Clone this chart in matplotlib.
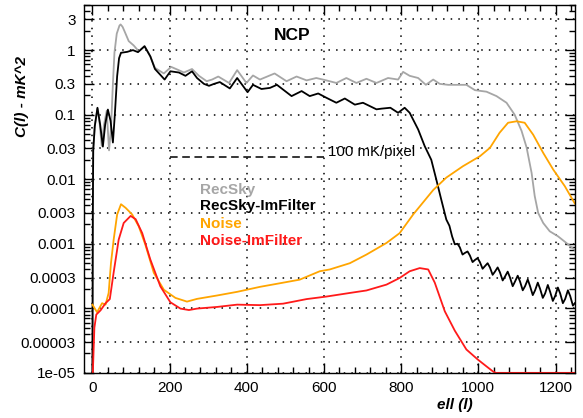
import numpy as np
import matplotlib
matplotlib.use("Agg")
import matplotlib.pyplot as plt
from matplotlib.ticker import FixedLocator, MultipleLocator, LogLocator, NullFormatter

plt.rcParams['font.family'] = ['Liberation Sans', 'DejaVu Sans']

# RecSky (gray)
ell_sky = [0, 1, 2, 6, 13, 19, 24, 30, 37, 43, 48, 53, 57, 63, 70, 73, 78, 83, 94, 107,
           120, 135, 150, 162, 185, 204, 220, 237, 258, 276, 296, 310, 326, 354, 375, 399,
           416, 434, 472, 503, 529, 555, 580, 606, 632, 658, 684, 710, 736, 766, 792, 805,
           822, 844, 864, 883, 900, 922, 952, 969, 991, 1021, 1047, 1073, 1094, 1112, 1125,
           1138, 1146, 1155, 1168, 1185, 1206, 1228, 1250]
c_sky = [1e-5, 0.003, 0.028, 0.066, 0.125, 0.07, 0.033, 0.07, 0.115, 0.028, 0.06, 0.3,
         0.91, 1.8, 2.4, 2.5, 2.3, 1.97, 1.38, 1.18, 0.96, 1.15, 0.8, 0.53, 0.435, 0.55,
         0.5, 0.45, 0.51, 0.40, 0.33, 0.35, 0.39, 0.31, 0.49, 0.31, 0.405, 0.35, 0.435,
         0.33, 0.39, 0.34, 0.37, 0.34, 0.31, 0.37, 0.31, 0.36, 0.31, 0.37, 0.35, 0.46,
         0.40, 0.37, 0.29, 0.35, 0.30, 0.29, 0.29, 0.29, 0.24, 0.227, 0.194, 0.153, 0.10,
         0.056, 0.031, 0.0125, 0.0055, 0.0030, 0.0021, 0.00156, 0.00131, 0.00103, 0.0008]

# RecSky-ImFilter (black)
ell_skyf = [0, 1, 2, 6, 13, 20, 27, 33, 40, 47, 53, 58, 64, 69, 74, 90, 105, 118, 135, 150,
            162, 175, 187, 202, 224, 241, 258, 271, 289, 302, 315, 330, 356, 375, 402, 416,
            438, 460, 478, 516, 542, 563, 585, 606, 632, 654, 680, 701, 736, 749, 772, 792,
            809, 822, 844, 861, 878, 891, 904, 917, 925, 932, 939,
            946, 952, 959, 965, 972, 978, 985, 991, 998, 1004, 1011, 1017,
            1024, 1030, 1037, 1043, 1050, 1056, 1063, 1069, 1076, 1082, 1089, 1095,
            1102, 1108, 1115, 1121, 1128, 1134, 1141, 1147, 1154, 1160, 1167, 1173,
            1180, 1186, 1193, 1199, 1206, 1212, 1219, 1225, 1232, 1238, 1245, 1250]
c_skyf = [1e-5, 0.003, 0.028, 0.066, 0.128, 0.07, 0.032, 0.07, 0.12, 0.08, 0.037, 0.1,
          0.395, 0.75, 0.91, 0.94, 1.0, 0.93, 1.15, 0.8, 0.51, 0.42, 0.35, 0.47, 0.45, 0.40,
          0.47, 0.37, 0.30, 0.28, 0.30, 0.32, 0.255, 0.37, 0.223, 0.29, 0.25, 0.26, 0.29,
          0.194, 0.232, 0.194, 0.213, 0.183, 0.153, 0.178, 0.143, 0.153, 0.121, 0.124,
          0.128, 0.107, 0.128, 0.107, 0.059, 0.0325, 0.020, 0.0099, 0.0048, 0.00237,
          0.0019, 0.0013, 0.00098,
          0.00100, 0.00088, 0.00068, 0.00072, 0.00076, 0.00066, 0.00052, 0.00056,
          0.00060, 0.00052, 0.00041, 0.00045, 0.00050, 0.00043, 0.00033, 0.00037,
          0.00043, 0.00036, 0.00027, 0.00031, 0.00037, 0.00030, 0.00022, 0.00026,
          0.00032, 0.00026, 0.00019, 0.00022, 0.00028, 0.00022, 0.00016, 0.00019,
          0.00025, 0.00020, 0.000145, 0.00017, 0.00023, 0.00018, 0.00013, 0.000155,
          0.00021, 0.00017, 0.00012, 0.00014, 0.00019, 0.000155, 0.00011, 0.00012]

# Noise (orange)
ell_noise = [0, 12, 25, 34, 42, 48, 55, 64, 74, 86, 103, 120, 137, 159, 185, 215, 245, 271,
             323, 375, 434, 485, 537, 589, 615, 667, 710, 762, 796, 831, 883, 917, 960,
             1004, 1030, 1055, 1077, 1099, 1120, 1142, 1168, 1194, 1224, 1250]
c_noise = [0.000114, 8.7e-5, 0.00012, 0.000114, 0.000173, 0.0005, 0.00116, 0.00284, 0.0041,
           0.0036, 0.00284, 0.00186, 0.00097, 0.000355, 0.000194, 0.000145, 0.000127,
           0.00014, 0.000158, 0.00018, 0.000215, 0.000244, 0.000278, 0.000375, 0.0004,
           0.0005, 0.00068, 0.00103, 0.00146, 0.00284, 0.0068, 0.0106, 0.0159, 0.0227,
           0.0306, 0.0525, 0.075, 0.079, 0.075, 0.049, 0.0256, 0.0141, 0.0078, 0.0042]

# Noise-ImFilter (red)
ell_noisef = [1, 5, 10, 21, 34, 45, 55, 68, 81, 99, 112, 129, 150, 176, 202, 228, 250, 271,
              323, 375, 434, 494, 555, 606, 667, 710, 762, 796, 822, 848, 870, 887, 913,
              939, 969, 999, 1021, 1038, 1045, 1250]
c_noisef = [1e-5, 5e-5, 8e-5, 9.3e-5, 0.00012, 0.000139, 0.00036, 0.00116, 0.0021, 0.0027,
            0.0024, 0.00146, 0.00057, 0.000219, 0.000124, 9.9e-5, 9.4e-5, 9.9e-5, 0.000105,
            0.000114, 0.000112, 0.000118, 0.000139, 0.000152, 0.000173, 0.000189, 0.000233,
            0.000295, 0.000375, 0.00042, 0.0004, 0.00025, 9e-5, 4.5e-5, 2.3e-5, 1.6e-5,
            1.26e-5, 1.05e-5, 1e-5, 1e-5]

# 100 mK/pixel reference level
ref_ell = [200, 600]
ref_level = 0.0222

yticks = [1e-5, 3e-5, 1e-4, 3e-4, 1e-3, 3e-3, 0.01, 0.03, 0.1, 0.3, 1, 3]
ylabels = ['1e-05', '0.00003', '0.0001', '0.0003', '0.001', '0.003', '0.01', '0.03',
           '0.1', '0.3', '1', '3']

fig = plt.figure(figsize=(5.83, 4.18), dpi=100)
ax = fig.add_axes([0.144, 0.108, 0.842, 0.880])

ax.plot(ell_sky, c_sky, color='#a6a6a6', lw=1.3)
ax.plot(ell_skyf, c_skyf, color='black', lw=1.3)
ax.plot(ell_noise, c_noise, color='#ffa500', lw=1.3)
ax.plot(ell_noisef, c_noisef, color='#ff1a1a', lw=1.3, clip_on=False)
ax.plot(ref_ell, [ref_level, ref_level], color='black', lw=1.1, ls=(0, (5, 3)))

ax.set_yscale('log')
ax.set_xlim(-22, 1250)
ax.set_ylim(1e-5, 5)

ax.yaxis.set_major_locator(FixedLocator(yticks))
ax.set_yticklabels(ylabels)
ax.yaxis.set_minor_locator(LogLocator(base=10, subs=(2, 4, 5, 6, 7, 8, 9), numticks=20))
ax.yaxis.set_minor_formatter(NullFormatter())
ax.xaxis.set_major_locator(MultipleLocator(200))
ax.xaxis.set_minor_locator(MultipleLocator(40))

ax.tick_params(which='both', direction='in', top=True, right=True, labelsize=11)
ax.tick_params(which='major', length=7, width=1)
ax.tick_params(which='minor', length=4, width=1)
ax.tick_params(axis='x', pad=6)
ax.tick_params(axis='y', pad=6)
for s in ax.spines.values():
    s.set_linewidth(1.0)

ax.grid(True, which='major', color='black', ls=(0, (1, 4)), lw=1.1)

ax.text(0.4246, 0.918, 'NCP', transform=ax.transAxes, ha='center', va='center',
        fontsize=12.5, fontweight='bold')
ax.text(610, 0.026, '100 mK/pixel', ha='left', va='center', fontsize=10.8)

leg_names = ['RecSky', 'RecSky-ImFilter', 'Noise', 'Noise-ImFilter']
leg_colors = ['#a6a6a6', 'black', '#ffa500', '#ff1a1a']
leg_y = [0.497, 0.454, 0.405, 0.359]
for name, col, yy in zip(leg_names, leg_colors, leg_y):
    ax.text(0.236, yy, name, transform=ax.transAxes, color=col, fontsize=11,
            fontweight='bold', ha='left', va='center')

fig.text(0.038, 0.768, 'C(l) - mK^2', rotation=90, ha='center', va='center',
         fontsize=11, fontweight='bold', fontstyle='italic')
fig.text(0.780, 0.031, 'ell (l)', ha='center', va='center',
         fontsize=11, fontweight='bold', fontstyle='italic')

fig.savefig('out.png', dpi=100)
